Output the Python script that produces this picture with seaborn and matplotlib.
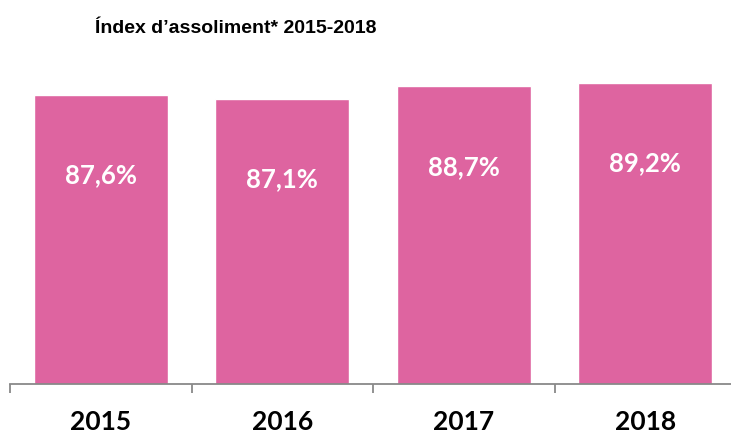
"""
Index d'assoliment bar chart
"""

import matplotlib
matplotlib.use("Agg")
import matplotlib.pyplot as plt
import seaborn as sns
import pandas as pd
from matplotlib.ticker import FixedLocator

years = ["2015", "2016", "2017", "2018"]
values = [87.6, 87.1, 88.7, 89.2]
value_labels = ["87,6%", "87,1%", "88,7%", "89,2%"]
title = "Índex d\u2019assoliment* 2015-2018"

BAR_COLOR = "#DE64A0"
AXIS_COLOR = "#898989"
TITLE_FONT = ["Liberation Sans", "DejaVu Sans"]
LABEL_FONT = ["Lato", "DejaVu Sans"]

sns.set_style("white")
plt.rcParams["font.family"] = LABEL_FONT
plt.rcParams["text.color"] = "black"

df = pd.DataFrame({"year": years, "value": values})

fig = plt.figure(figsize=(7.31, 4.36), dpi=100)
ax = fig.add_axes([10 / 731, 52 / 436, 726 / 731, 307.6 / 436])

sns.barplot(data=df, x="year", y="value", color=BAR_COLOR, saturation=1,
            width=0.74, ax=ax)
ax.set_xlim(-0.5, 3.5)
ax.set_ylim(50, 90)

# value labels inside the bars
for i, (v, lab) in enumerate(zip(values, value_labels)):
    ax.text(i, v - 10.5, lab, ha="center", va="center", color="white",
            fontsize=18.5, fontweight="bold", family=LABEL_FONT)

# axis styling
for side in ["left", "right", "top"]:
    ax.spines[side].set_visible(False)
ax.spines["bottom"].set_color(AXIS_COLOR)
ax.spines["bottom"].set_linewidth(1.3)
ax.set_yticks([])
ax.set_xlabel("")
ax.set_ylabel("")
ax.tick_params(axis="x", which="major", length=0, pad=19)
ax.xaxis.set_minor_locator(FixedLocator([-0.5, 0.5, 1.5, 2.5, 3.5]))
ax.tick_params(axis="x", which="minor", length=6.5, width=1.3,
               color=AXIS_COLOR, direction="out", bottom=True)
for lab in ax.get_xticklabels():
    lab.set_fontsize(19)
    lab.set_fontweight("bold")
    lab.set_color("black")

fig.text(236 / 731, 1 - 28 / 436, title, ha="center", va="center",
         fontsize=14, fontweight="bold", family=TITLE_FONT, color="black")

fig.savefig("out.png", dpi=100)
plt.close(fig)
